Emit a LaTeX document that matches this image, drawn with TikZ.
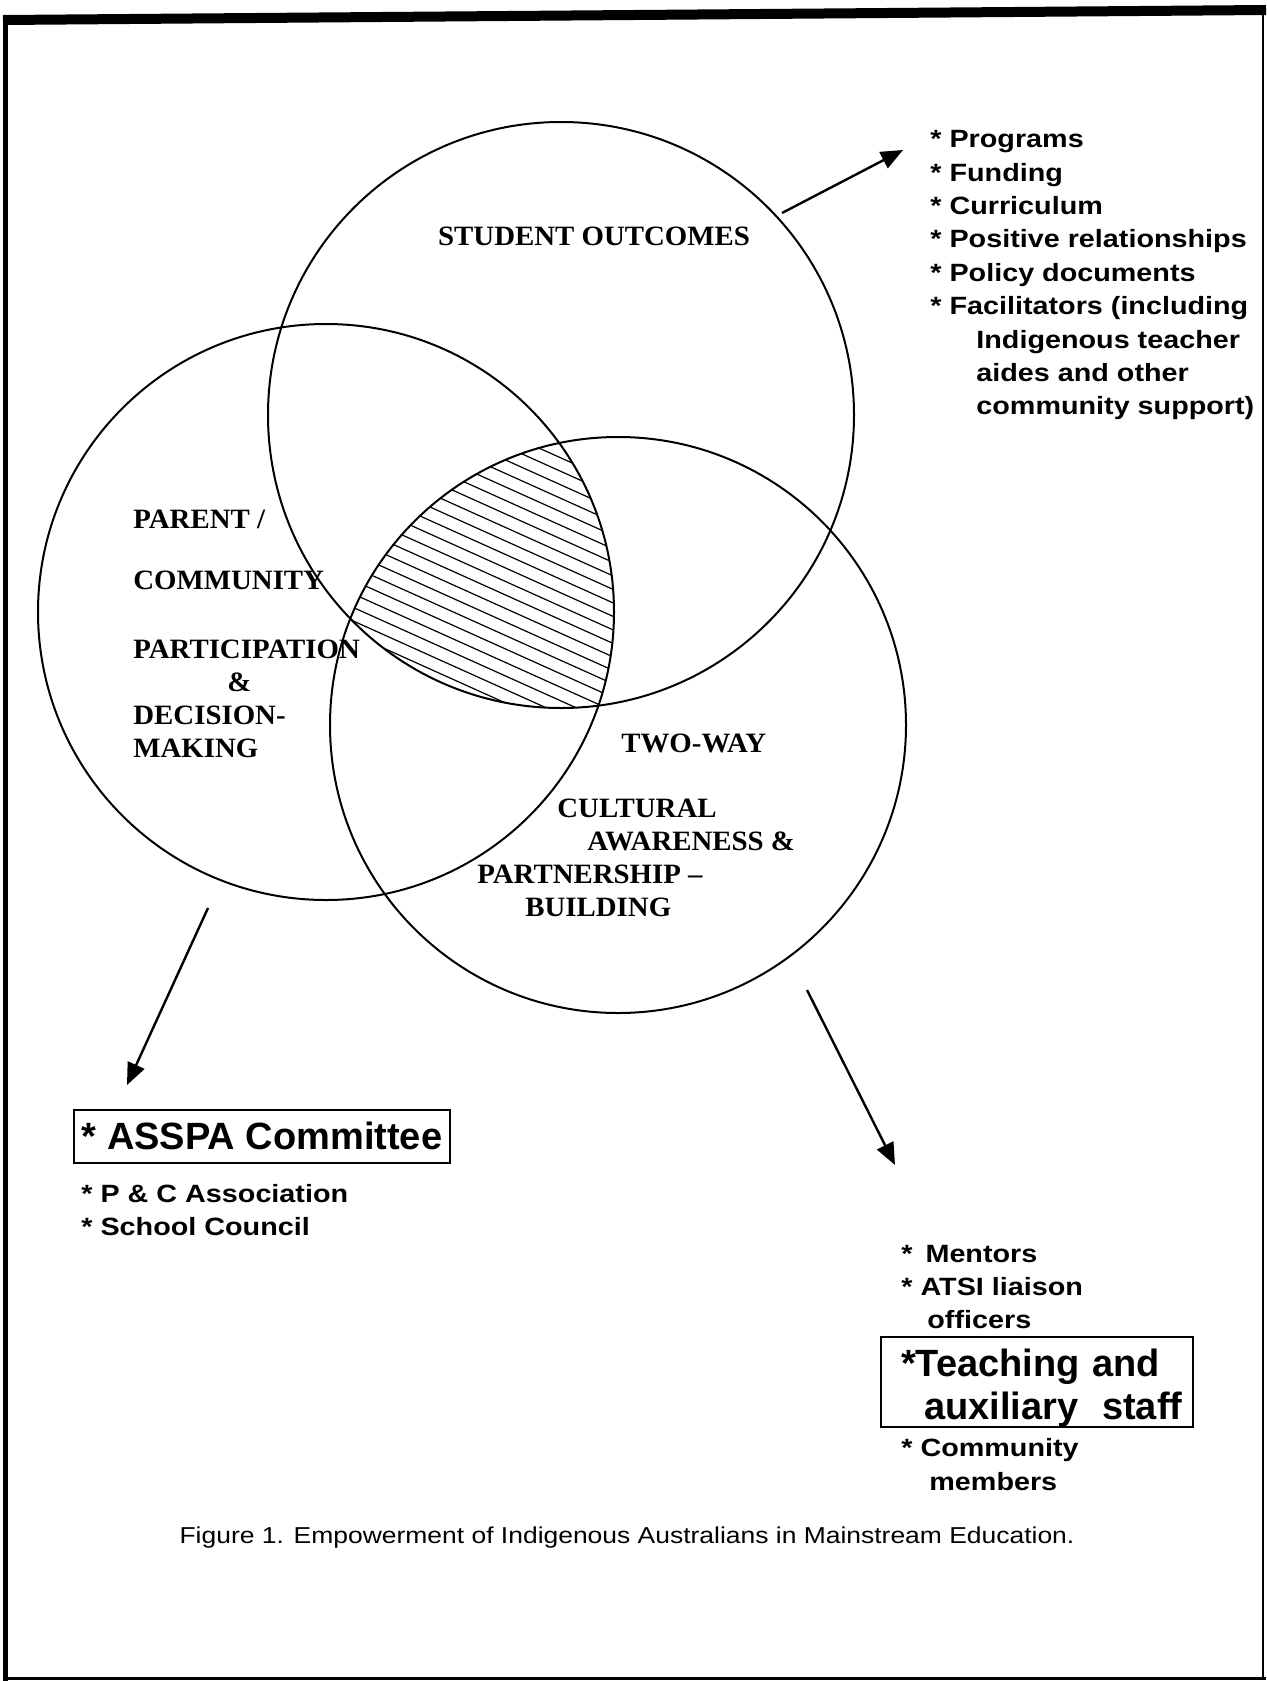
\documentclass[tikz,border=0pt]{standalone}
\usepackage{fontspec}
\usetikzlibrary{arrows.meta,positioning}
\newfontfamily\labfont[FakeStretch=1.03]{Liberation Serif}
\newfontfamily\listfont[FakeStretch=1.15]{Liberation Sans}
\newfontfamily\bigfont{Liberation Sans}

\begin{document}
\begin{tikzpicture}[
    x=0.5pt, y=-0.5pt,
    >={Triangle[length=11pt,width=9pt]},
    ring/.style={draw, circle, line width=1pt, minimum size=288pt, inner sep=0pt},
    lab/.style={inner sep=0pt, align=left, font=\labfont\bfseries\fontsize{14}{16.5}\selectfont},
    list/.style={inner sep=0pt, align=left, font=\listfont\bfseries\fontsize{12.5}{16.7}\selectfont},
    bigbox/.style={draw, line width=1pt, inner sep=0pt, align=left, font=\bigfont\bfseries\fontsize{19}{21.5}\selectfont},
    arr/.style={->, line width=1.2pt},
    hatch/.style={line width=0.6pt}
]
    \useasboundingbox (0,0) rectangle (1266,1681);

    % page frame
    \draw[line width=5pt] (3,20) -- (1266,10);
    \draw[line width=2.5pt] (5,15) -- (5,1681);
    \draw[line width=1.5pt] (3,1678) -- (1266,1678);
    \draw[line width=1pt] (1263,10) -- (1263,1678);

    % the three circles
    \node[ring, minimum size=293pt] (out) at (561,415) {};
    \node[ring] (par) at (326,612) {};
    \node[ring] (two) at (618,725) {};

    % hatched common part
    \begin{scope}
        \clip (out.center) circle (146.5pt);
        \clip (par.center) circle (144pt);
        \clip (two.center) circle (144pt);
        \foreach \k in {-1,...,22}
            \draw[hatch] (300,{327+13.5*\k}) -- ++(360,162);
    \end{scope}

    \node[lab, align=center] (outlab) at (594,236) {STUDENT OUTCOMES};
    \node[lab, anchor=north west] (parlab) at (133,510) {PARENT /\\[14pt]COMMUNITY\\[18pt]PARTICIPATION\\\hspace*{47pt}\&\\DECISION-\\MAKING};
    \node[lab, anchor=north west] (twolab) at (477,734) {\hspace*{72pt}TWO-WAY\\[16pt]\hspace*{40pt}CULTURAL\\\hspace*{55pt}AWARENESS \&\\PARTNERSHIP \textendash\\\hspace*{24pt}BUILDING};

    % lists
    \node[list, anchor=north west] (supports) at (930,130) {* Programs\\* Funding\\* Curriculum\\* Positive relationships\\* Policy documents\\* Facilitators (including\\\hspace*{23pt}Indigenous teacher\\\hspace*{23pt}aides and other\\\hspace*{23pt}community support)};

    \node[bigbox, align=center, minimum width=188pt, minimum height=26.5pt] (asspa) at (262,1136) {* ASSPA Committee};
    \node[list, below right=10pt and 4pt of asspa.south west, font=\listfont\bfseries\fontsize{12.5}{16.5}\selectfont] (pc) {* P \& C Association\\* School Council};

    \node[bigbox, inner xsep=0pt, text width=156pt, minimum height=45pt] (teach) at (1037,1382) {\rule{0pt}{20pt}\hspace*{10pt}*Teaching and\\\hspace*{21.5pt}auxiliary\hspace{12pt}staff};
    \node[list, above right=3pt and 10.5pt of teach.north west] (mentors) {* \hspace{2.5pt}Mentors\\* ATSI liaison\\\hspace*{13pt}officers};
    \node[list, below right=5pt and 10.5pt of teach.south west] (members) {* Community\\\hspace*{14pt}members};

    \node[inner sep=0pt, font=\listfont\fontsize{11.5}{13}\selectfont] (caption) at (627,1538) {Figure 1. Empowerment of Indigenous Australians in Mainstream Education.};

    % arrows
    \coordinate (outTail) at (782,213);
    \coordinate (outTip) at (903,150);
    \coordinate (parTail) at (208,908);
    \coordinate (parTip) at (127,1085);
    \coordinate (twoTail) at (807,990);
    \coordinate (twoTip) at (895,1165);
    \draw[arr] (outTail) -- (outTip);
    \draw[arr] (parTail) -- (parTip);
    \draw[arr] (twoTail) -- (twoTip);
\end{tikzpicture}
\end{document}
